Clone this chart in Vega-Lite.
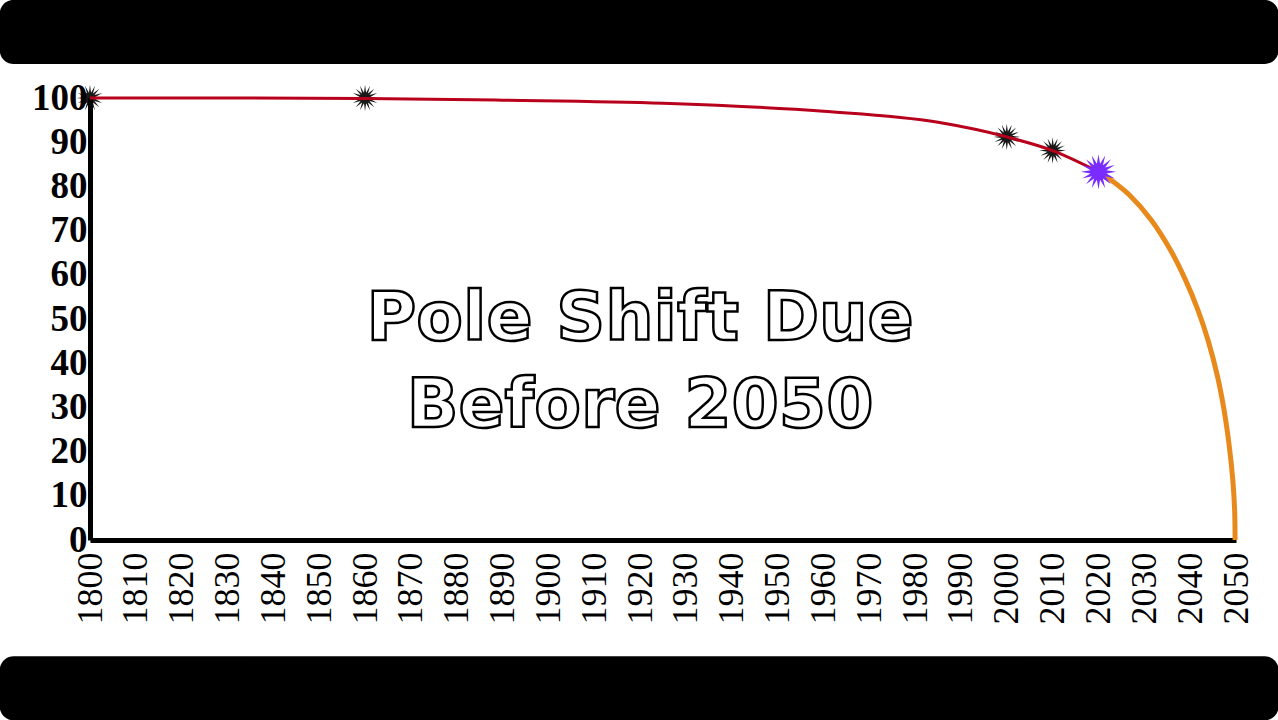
{
  "$schema": "https://vega.github.io/schema/vega-lite/v6.json",
  "autosize": {"type": "none"},
  "width": 1146,
  "height": 442,
  "padding": {"left": 90, "top": 98, "right": 42, "bottom": 180},
  "background": "white",
  "config": {"view": {"stroke": null}},
  "datasets": {
    "bars": [
      {"x1": 1780.3, "x2": 2059.3, "y1": 107.7, "y2": 122.2, "pos": "top"},
      {"x1": 1780.3, "x2": 2059.3, "y1": -26.3, "y2": -40.8, "pos": "bottom"}
    ],
    "past": [
      {"year": 1800, "value": 100},
      {"year": 1830, "value": 100},
      {"year": 1860, "value": 99.9},
      {"year": 1890, "value": 99.5},
      {"year": 1925, "value": 98.8},
      {"year": 1960, "value": 97.0},
      {"year": 1985, "value": 94.5},
      {"year": 2000, "value": 91.2},
      {"year": 2010, "value": 88.1},
      {"year": 2020, "value": 83.3}
    ],
    "forecast": [
      {"year": 2020, "value": 83.3},
      {"year": 2022.8, "value": 81.4},
      {"year": 2026.7, "value": 78.1},
      {"year": 2031.5, "value": 72.4},
      {"year": 2035.7, "value": 65.6},
      {"year": 2039.0, "value": 58.8},
      {"year": 2041.7, "value": 52.0},
      {"year": 2043.9, "value": 45.2},
      {"year": 2045.9, "value": 37.3},
      {"year": 2047.4, "value": 29.4},
      {"year": 2048.5, "value": 21.5},
      {"year": 2049.3, "value": 13.6},
      {"year": 2049.7, "value": 6.8},
      {"year": 2049.8, "value": 0}
    ],
    "marks": [
      {"year": 1800, "value": 100},
      {"year": 1860, "value": 100},
      {"year": 2000, "value": 91.2},
      {"year": 2010, "value": 88.1}
    ],
    "now": [
      {"year": 2020, "value": 83.3}
    ],
    "headline": [
      {"text": "Pole Shift Due\nBefore 2050"}
    ]
  },
  "layer": [
    {
      "data": {"name": "bars"},
      "mark": {"type": "rect", "color": "black", "clip": false, "cornerRadius": 14},
      "encoding": {
        "x": {"field": "x1", "type": "quantitative"},
        "x2": {"field": "x2"},
        "y": {"field": "y1", "type": "quantitative"},
        "y2": {"field": "y2"}
      }
    },
    {
      "data": {"name": "marks"},
      "mark": {"type": "point", "filled": true, "color": "black", "opacity": 0.9,
        "shape": "M1,0L0.4,0.08L0.924,0.383L0.333,0.222L0.707,0.707L0.222,0.333L0.383,0.924L0.08,0.4L0,1L-0.08,0.4L-0.383,0.924L-0.222,0.333L-0.707,0.707L-0.333,0.222L-0.924,0.383L-0.4,0.08L-1,0L-0.4,-0.08L-0.924,-0.383L-0.333,-0.222L-0.707,-0.707L-0.222,-0.333L-0.383,-0.924L-0.08,-0.4L0,-1L0.08,-0.4L0.383,-0.924L0.222,-0.333L0.707,-0.707L0.333,-0.222L0.924,-0.383L0.4,-0.08Z",
        "size": 700, "clip": false},
      "encoding": {
        "x": {"field": "year", "type": "quantitative"},
        "y": {"field": "value", "type": "quantitative"}
      }
    },
    {
      "data": {"name": "past"},
      "mark": {"type": "line", "color": "#b8001c", "strokeWidth": 3, "interpolate": "monotone", "clip": false},
      "encoding": {
        "x": {"field": "year", "type": "quantitative"},
        "y": {"field": "value", "type": "quantitative"}
      }
    },
    {
      "data": {"name": "forecast"},
      "mark": {"type": "line", "color": "#e8891c", "strokeWidth": 5, "interpolate": "catmull-rom", "clip": false},
      "encoding": {
        "x": {"field": "year", "type": "quantitative"},
        "y": {"field": "value", "type": "quantitative"}
      }
    },
    {
      "data": {"name": "now"},
      "mark": {"type": "point", "filled": true, "color": "#7a2cff", "opacity": 1,
        "shape": "M1,0L0.45,0.09L0.924,0.383L0.374,0.25L0.707,0.707L0.25,0.374L0.383,0.924L0.09,0.45L0,1L-0.09,0.45L-0.383,0.924L-0.25,0.374L-0.707,0.707L-0.374,0.25L-0.924,0.383L-0.45,0.09L-1,0L-0.45,-0.09L-0.924,-0.383L-0.374,-0.25L-0.707,-0.707L-0.25,-0.374L-0.383,-0.924L-0.09,-0.45L0,-1L0.09,-0.45L0.383,-0.924L0.25,-0.374L0.707,-0.707L0.374,-0.25L0.924,-0.383L0.45,-0.09Z",
        "size": 1250, "clip": false},
      "encoding": {
        "x": {"field": "year", "type": "quantitative"},
        "y": {"field": "value", "type": "quantitative"}
      }
    },
    {
      "data": {"name": "headline"},
      "mark": {"type": "text", "font": "DejaVu Sans", "fontWeight": "bold", "fontSize": 68,
        "fill": "white", "stroke": "black", "strokeWidth": 2.5, "align": "center", "baseline": "middle",
        "lineBreak": "\n", "lineHeight": 87},
      "encoding": {
        "text": {"field": "text"},
        "x": {"datum": 1920, "type": "quantitative"},
        "y": {"datum": 49.8, "type": "quantitative"}
      }
    }
  ],
  "resolve": {"scale": {"x": "shared", "y": "shared"}},
  "encoding": {
    "x": {
      "type": "quantitative",
      "scale": {"domain": [1800, 2050], "nice": false, "zero": false},
      "axis": {
        "title": null, "grid": false, "ticks": false,
        "values": [1800,1810,1820,1830,1840,1850,1860,1870,1880,1890,1900,1910,1920,1930,1940,1950,1960,1970,1980,1990,2000,2010,2020,2030,2040,2050],
        "format": "d", "labelAngle": -90, "labelAlign": "right", "labelBaseline": "middle",
        "labelFont": "Liberation Serif", "labelFontSize": 36, "labelColor": "black",
        "labelPadding": 12, "labelOverlap": false, "labelFlush": false,
        "domainColor": "black", "domainWidth": 5
      }
    },
    "y": {
      "type": "quantitative",
      "scale": {"domain": [0, 100], "nice": false},
      "axis": {
        "title": null, "grid": false, "ticks": false,
        "values": [0,10,20,30,40,50,60,70,80,90,100],
        "labelFont": "Liberation Serif", "labelFontSize": 37, "labelFontWeight": "bold", "labelColor": "black",
        "labelPadding": 3, "labelOverlap": false, "labelFlush": false,
        "domainColor": "black", "domainWidth": 5
      }
    }
  }
}
